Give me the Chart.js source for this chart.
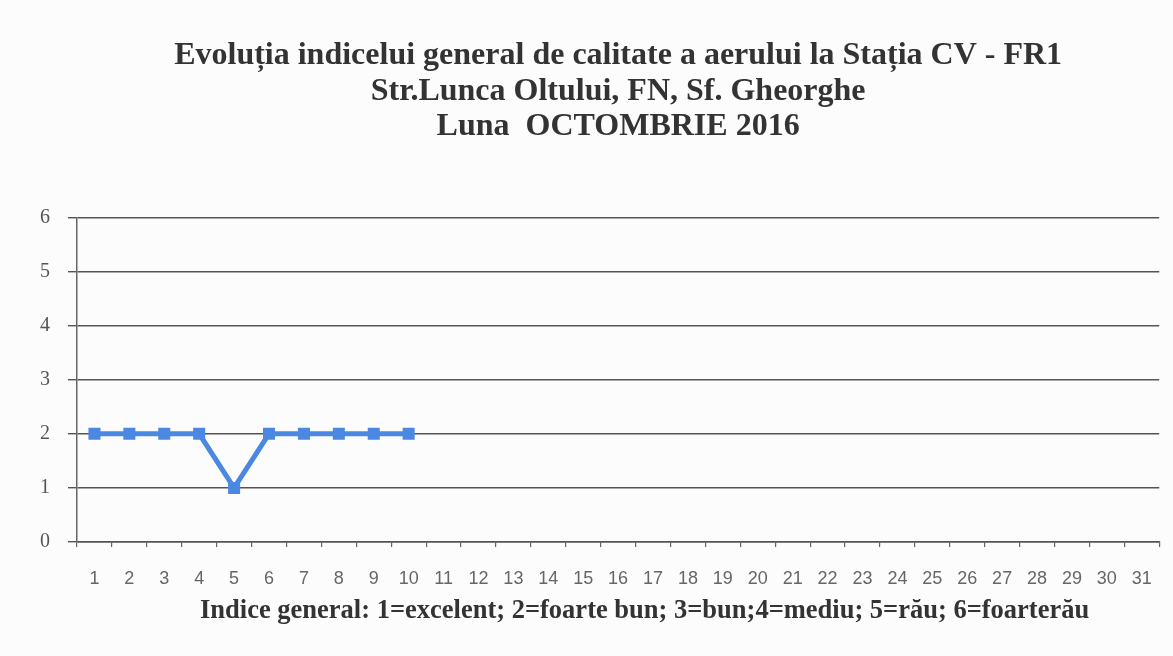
<!DOCTYPE html>
<html>
<head>
<meta charset="utf-8">
<script src="https://cdn.jsdelivr.net/npm/chart.js@4/dist/chart.umd.min.js"></script>
<style>
  html, body { margin: 0; padding: 0; background: #fcfcfc; }
  #wrap { width: 1173px; height: 656px; }
</style>
</head>
<body>
<div id="wrap"><canvas id="c" width="1173" height="656"></canvas></div>
<script>
const days = ['1','2','3','4','5','6','7','8','9','10','11','12','13','14','15','16','17','18','19','20','21','22','23','24','25','26','27','28','29','30','31'];
const indiceGeneral = [2, 2, 2, 2, 1, 2, 2, 2, 2, 2, null, null, null, null, null, null, null, null, null, null, null, null, null, null, null, null, null, null, null, null, null];
const titleLines = [
  'Evoluția indicelui general de calitate a aerului la Stația CV - FR1',
  'Str.Lunca Oltului, FN, Sf. Gheorghe',
  'Luna  OCTOMBRIE 2016'
];
const xAxisTitle = 'Indice general: 1=excelent; 2=foarte bun; 3=bun;4=mediu; 5=rău; 6=foarterău';
const yMin = 0, yMax = 6, yStep = 1;

new Chart(document.getElementById('c'), {
  type: 'line',
  data: {
    labels: days,
    datasets: [{
      label: 'Indice general',
      data: indiceGeneral,
      borderColor: '#4a88e2',
      backgroundColor: '#4a88e2',
      borderWidth: 5,
      pointStyle: 'rect',
      pointRadius: 8.5,
      pointHoverRadius: 8.5,
      pointBorderWidth: 0,
      tension: 0,
      spanGaps: false
    }]
  },
  options: {
    responsive: false,
    animation: false,
    layout: { padding: { left: 0, right: 13, top: 0, bottom: 0 } },
    plugins: {
      legend: { display: false },
      tooltip: { enabled: false },
      title: {
        display: true,
        fullSize: false,
        text: titleLines,
        color: '#333',
        font: { family: '"Liberation Serif", "Times New Roman", serif', size: 32, weight: 'bold', lineHeight: 1.11 },
        padding: { top: 38, bottom: 73 }
      }
    },
    scales: {
      x: {
        offset: true,
        afterFit: (scale) => { scale.height = 114; },
        grid: { offset: true, drawOnChartArea: false, drawTicks: true, tickLength: 5, color: '#666', lineWidth: 1.2 },
        border: { display: true, color: '#555', width: 1.5 },
        ticks: {
          color: '#666',
          padding: 21,
          maxRotation: 0,
          autoSkip: false,
          font: { family: '"Liberation Sans", Arial, sans-serif', size: 18 }
        },
        title: {
          display: true,
          text: '        ' + xAxisTitle,
          color: '#333',
          font: { family: '"Liberation Serif", "Times New Roman", serif', size: 26.5, weight: 'bold', lineHeight: 1.0 },
          padding: { top: 6, bottom: 32 }
        }
      },
      y: {
        min: yMin,
        max: yMax,
        afterFit: (scale) => { scale.width = 77; },
        grid: { color: '#555', lineWidth: 1.4, tickLength: 9 },
        border: { display: true, color: '#666', width: 1.5 },
        ticks: {
          stepSize: yStep,
          color: '#555',
          padding: 18,
          font: { family: '"Liberation Serif", "Times New Roman", serif', size: 20 }
        }
      }
    }
  }
});
</script>
</body>
</html>
